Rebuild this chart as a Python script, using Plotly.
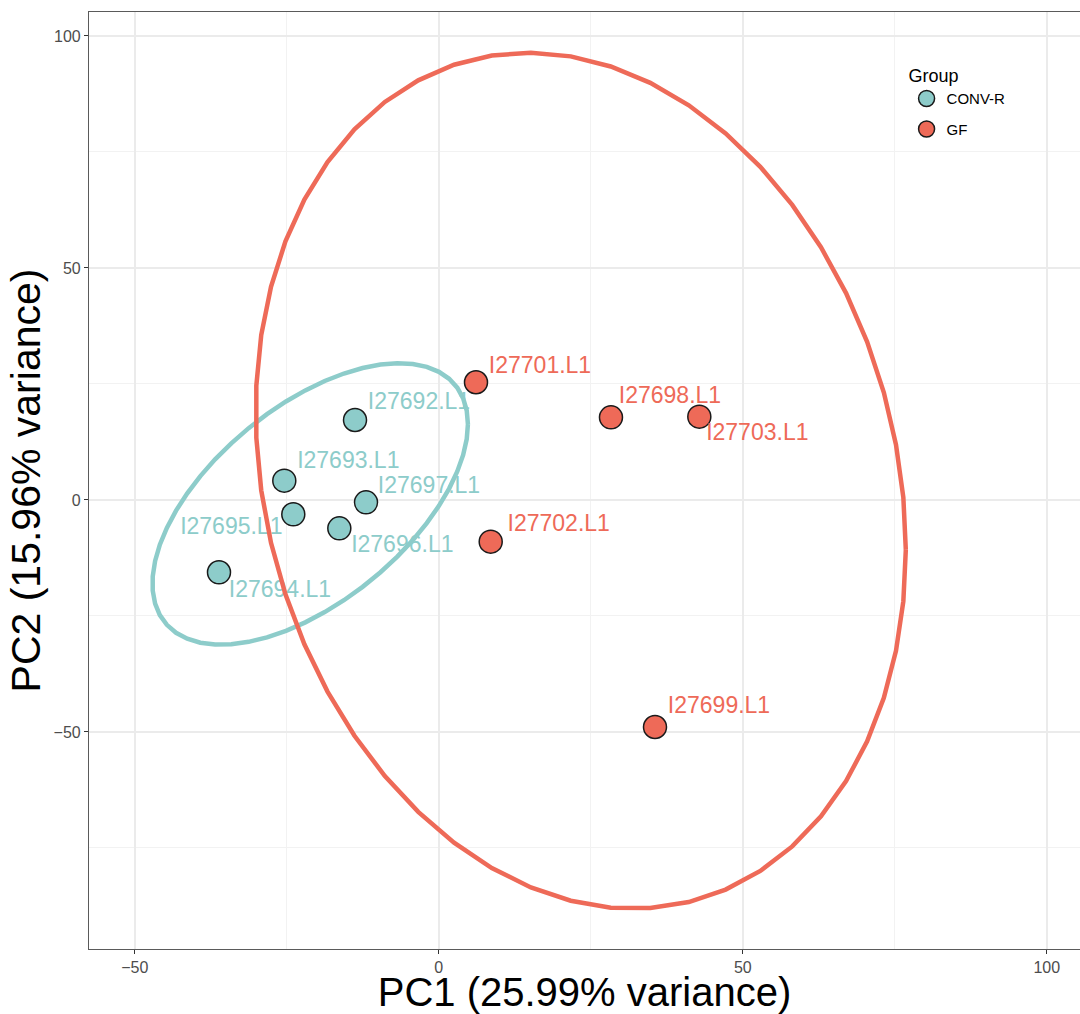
import numpy as np
import plotly.graph_objects as go

# ---------------- data ----------------
samples = ["I27692.L1", "I27693.L1", "I27695.L1", "I27697.L1", "I27696.L1", "I27694.L1",
           "I27701.L1", "I27698.L1", "I27703.L1", "I27702.L1", "I27699.L1"]
groups = ["CONV-R"] * 6 + ["GF"] * 5
pc1 = [-13.78, -25.41, -23.93, -11.97, -16.36, -36.15, 6.12, 28.32, 42.85, 8.54, 35.56]
pc2 = [17.24, 4.16, -3.08, -0.50, -6.10, -15.58, 25.37, 17.82, 17.95, -8.99, -48.92]
group_levels = ["CONV-R", "GF"]
x_title = "PC1 (25.99% variance)"
y_title = "PC2 (15.96% variance)"
x_ticks = [-50, 0, 50, 100]
y_ticks = [-50, 0, 50, 100]

# ---------------- style ----------------
colors = {"CONV-R": "#8DCCCA", "GF": "#EE6A58"}
# label offsets (pixels, right / down) mimicking ggrepel placement
label_dx = [64, 64, -62, 63, 63, 61, 64, 59, 58, 68, 64]
label_dy = [-17, -18, 14, -15, 18, 19, -15, -20, 18, -16, -20]

W, H = 1080, 1014
ML, MR, MT, MB = 89, 0, 12, 65
xr = [-57.53, 105.46]
yr = [-96.77, 105.17]
pw, ph = W - ML - MR, H - MT - MB
sx = pw / (xr[1] - xr[0])
sy = ph / (yr[1] - yr[0])


def cov_trob(X, nu=5, maxit=25, tol=0.01):
    X = np.asarray(X, float)
    n, p = X.shape
    wt = np.ones(n)
    loc = (wt[:, None] * X).sum(0) / wt.sum()
    w = np.sqrt(wt)
    Xc = X - loc
    for _ in range(maxit):
        w0 = w
        Xc = X - loc
        A = np.sqrt(w / w.sum())[:, None] * Xc
        _, d, Vt = np.linalg.svd(A, full_matrices=False)
        wX = Xc @ Vt.T @ np.diag(1.0 / d)
        Q = (wX ** 2).sum(1)
        w = wt * (nu + p) / (nu + Q)
        loc = (w[:, None] * X).sum(0) / w.sum()
        if np.all(np.abs(w - w0) < tol):
            break
    cov = (np.sqrt(w)[:, None] * Xc).T @ (np.sqrt(w)[:, None] * Xc) / wt.sum()
    return cov, loc


def stat_ellipse(xs, ys, level=0.95, segments=51):
    X = np.column_stack([xs, ys])
    cov, center = cov_trob(X)
    dfn, dfd = 2, len(xs) - 1
    fq = (dfd / 2.0) * ((1 - level) ** (-2.0 / dfd) - 1)  # qf(level, 2, dfd)
    radius = np.sqrt(dfn * fq)
    U = np.linalg.cholesky(cov).T
    ang = np.arange(segments + 1) * 2 * np.pi / segments
    circ = np.column_stack([np.cos(ang), np.sin(ang)])
    e = center + radius * (circ @ U)
    return e[:, 0], e[:, 1]


fig = go.Figure()

# points
for g in group_levels:
    idx = [i for i, gg in enumerate(groups) if gg == g]
    fig.add_trace(go.Scatter(
        x=[pc1[i] for i in idx], y=[pc2[i] for i in idx], mode="markers", name=g,
        legendgroup=g,
        marker=dict(size=23, color=colors[g], line=dict(color="#1a1a1a", width=1.5)),
    ))

# labels
for g in group_levels:
    idx = [i for i, gg in enumerate(groups) if gg == g]
    fig.add_trace(go.Scatter(
        x=[pc1[i] + label_dx[i] / sx for i in idx],
        y=[pc2[i] - label_dy[i] / sy for i in idx],
        mode="text", text=[samples[i] for i in idx], textposition="middle center",
        textfont=dict(family="Liberation Sans", size=23, color=colors[g]),
        showlegend=False, hoverinfo="skip",
    ))

# ellipses
for g in group_levels:
    idx = [i for i, gg in enumerate(groups) if gg == g]
    ex, ey = stat_ellipse([pc1[i] for i in idx], [pc2[i] for i in idx])
    fig.add_trace(go.Scatter(
        x=ex, y=ey, mode="lines", line=dict(color=colors[g], width=4.5),
        showlegend=False, hoverinfo="skip",
    ))

axis_common = dict(
    showgrid=True, gridcolor="#EBEBEB", gridwidth=1.6,
    zeroline=False, showline=True, linecolor="#5a5a5a", linewidth=1.2,
    ticks="outside", ticklen=4, tickcolor="#333333", tickwidth=1.2,
    tickfont=dict(family="Liberation Sans", size=16, color="#4D4D4D"),
    minor=dict(dtick=25, showgrid=True, gridcolor="#F2F2F2", gridwidth=1.1),
)

fig.update_layout(
    width=W, height=H,
    margin=dict(l=ML, r=MR, t=MT, b=MB),
    paper_bgcolor="white", plot_bgcolor="white",
    font=dict(family="Liberation Sans"),
    xaxis=dict(range=xr, tickvals=x_ticks, mirror=True,
               title=dict(text=x_title, font=dict(size=40, color="black"), standoff=10),
               **axis_common),
    yaxis=dict(range=yr, tickvals=y_ticks, mirror=False,
               title=dict(text=y_title, font=dict(size=41, color="black"), standoff=0),
               **axis_common),
    legend=dict(
        x=0.825, y=0.95, xanchor="left", yanchor="top",
        title=dict(text="Group", font=dict(size=18, color="black")),
        font=dict(size=15, color="black"),
        bgcolor="rgba(0,0,0,0)", tracegroupgap=8, itemsizing="trace",
    ),
    showlegend=True,
)

fig.write_html("out.html")
